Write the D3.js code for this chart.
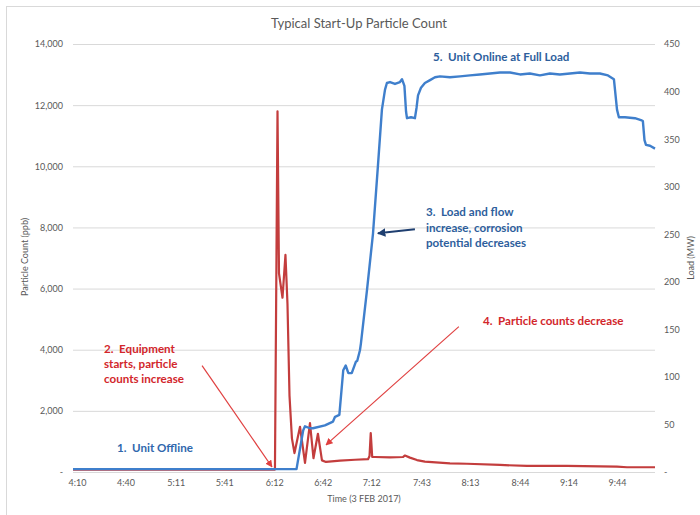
<!DOCTYPE html>
<html>
<head>
<meta charset="utf-8">
<script src="https://cdn.jsdelivr.net/npm/d3@7"></script>
<style>
  body { margin: 0; background: #fff; }
  svg text { font-family: Lato, "Open Sans", sans-serif; }
</style>
</head>
<body>
<div id="vis"></div>
<script>
// Particle count (ppb), left axis
const particleCount = [
    ["4:07:30", 80], ["6:12:25", 80], ["6:14:00", 11800], ["6:14:55", 6500],
    ["6:17:05", 5700], ["6:18:55", 7100], ["6:20:10", 5500], ["6:21:25", 2500],
    ["6:22:55", 1100], ["6:24:30", 620], ["6:27:55", 1480], ["6:31:00", 300],
    ["6:34:05", 1600], ["6:36:15", 450], ["6:39:00", 1250], ["6:41:30", 380],
    ["6:44:00", 330], ["6:52:40", 370], ["7:01:55", 400], ["7:10:00", 420],
    ["7:10:55", 520], ["7:11:40", 1270], ["7:12:35", 490], ["7:14:15", 490],
    ["7:23:35", 480], ["7:31:35", 490], ["7:32:50", 540], ["7:35:55", 470],
    ["7:40:15", 390], ["7:45:10", 340], ["8:00:40", 285], ["8:11:10", 270],
    ["8:31:35", 230], ["8:48:20", 200], ["9:13:00", 200], ["9:44:00", 175],
    ["9:50:10", 155], ["10:07:30", 155]
];

// Unit load (MW), right axis
const unitLoad = [
    ["4:07:30", 3], ["6:25:45", 3], ["6:29:55", 44], ["6:31:00", 48],
    ["6:34:05", 46], ["6:35:55", 46], ["6:43:20", 49], ["6:48:20", 53],
    ["6:49:35", 58], ["6:52:15", 60], ["6:54:40", 107], ["6:56:10", 112],
    ["6:57:50", 104], ["6:59:55", 104], ["7:02:30", 116], ["7:03:20", 117],
    ["7:05:00", 128], ["7:05:35", 135], ["7:09:20", 191], ["7:13:05", 251],
    ["7:16:05", 321], ["7:18:35", 381], ["7:20:30", 402], ["7:21:40", 409],
    ["7:23:35", 410], ["7:26:40", 408], ["7:29:45", 410], ["7:31:00", 413],
    ["7:32:30", 406], ["7:33:30", 379], ["7:34:05", 372], ["7:36:35", 373],
    ["7:39:00", 372], ["7:40:00", 383], ["7:40:55", 396], ["7:42:45", 404],
    ["7:45:10", 409], ["7:48:20", 412], ["7:51:25", 415], ["7:54:30", 416],
    ["8:00:40", 415], ["8:06:55", 416], ["8:13:00", 417], ["8:19:10", 418],
    ["8:25:25", 419], ["8:31:35", 420], ["8:37:50", 420], ["8:44:00", 418],
    ["8:50:05", 419], ["8:56:20", 417], ["9:02:30", 419], ["9:08:40", 418],
    ["9:14:55", 419], ["9:21:05", 420], ["9:27:15", 419], ["9:33:25", 419],
    ["9:38:25", 417], ["9:42:05", 413], ["9:44:00", 381], ["9:45:10", 373],
    ["9:48:55", 373], ["9:55:05", 372], ["9:58:50", 370], ["10:00:00", 369],
    ["10:01:00", 349], ["10:01:55", 344], ["10:04:25", 343], ["10:07:30", 340]
];

const timeTicks = ["4:10", "4:40", "5:11", "5:41", "6:12", "6:42", "7:12", "7:43", "8:13", "8:44", "9:14", "9:44"];
const countTicks = [0, 2000, 4000, 6000, 8000, 10000, 12000, 14000];
const loadTicks = [0, 50, 100, 150, 200, 250, 300, 350, 400, 450];
const timeRange = ["4:07:30", "10:07:30"];

// Callouts: [time, ppb] on the left axis
const notes = [
    { lines: ["1.  Unit Offline"], at: ["4:34:40", 656], color: "#2f67ad" },
    { lines: ["2.  Equipment", "starts, particle", "counts increase"], at: ["4:26:40", 3903], color: "#d2262b" },
    { lines: ["3.  Load and flow", "increase, corrosion", "potential decreases"], at: ["7:45:50", 8364], color: "#2d5e9c" },
    { lines: ["4.  Particle counts decrease"], at: ["8:21:05", 4822], color: "#d2262b" },
    { lines: ["5.  Unit Online at Full Load"], at: ["7:50:10", 13448], color: "#2d5e9c" }
];
const arrows = [
    { from: ["5:27:20", 3480], to: ["6:10:35", 164], color: "#e04040", w: 1.2, head: 6 },
    { from: ["8:06:10", 4756], to: ["6:44:00", 886], color: "#e04040", w: 1.2, head: 6 },
    { from: ["7:39:00", 7938], to: ["7:16:05", 7806], color: "#1f3f70", w: 2, head: 4.2 }
];

const W = 700, H = 515;
const margin = { top: 44, right: 45, bottom: 43, left: 73 };
const width = W - margin.left - margin.right;
const height = H - margin.top - margin.bottom;

const parseT = d3.timeParse("%H:%M:%S");
const parseHM = d3.timeParse("%H:%M");

const root = d3.select('#vis').append('svg')
    .attr('width', W)
    .attr('height', H);

// chart border
root.append('rect')
    .attr('x', 6.5).attr('y', 6.5)
    .attr('width', W).attr('height', H)
    .attr('fill', 'none')
    .attr('stroke', '#d9d9d9');

const svg = root.append('g')
    .attr('transform', `translate(${margin.left},${margin.top})`);

const x = d3.scaleTime().domain(timeRange.map(parseT)).range([0, width]);
const y = d3.scaleLinear().domain([0, 14000]).range([height, 0]);
const y2 = d3.scaleLinear().domain([0, 450]).range([height, 0]);

const fmtCount = d => d === 0 ? '-' : d3.format(',')(d);
const fmtLoad = d => d === 0 ? '-' : d;

// left axis with gridlines
const yAxis = svg.append('g')
    .call(d3.axisLeft(y).tickValues(countTicks).tickSize(-width).tickPadding(10).tickFormat(fmtCount));
yAxis.select('.domain').remove();
yAxis.selectAll('line').attr('stroke', '#d9d9d9');
yAxis.selectAll('text').attr('fill', '#595959').style('font-size', '9px');

// right axis
const y2Axis = svg.append('g')
    .attr('transform', `translate(${width},0)`)
    .call(d3.axisRight(y2).tickValues(loadTicks).tickSize(0).tickPadding(9).tickFormat(fmtLoad));
y2Axis.select('.domain').remove();
y2Axis.selectAll('text').attr('fill', '#595959').style('font-size', '9px');

// x axis
const xAxis = svg.append('g')
    .attr('transform', `translate(0,${height})`)
    .call(d3.axisBottom(x).tickValues(timeTicks.map(parseHM)).tickSize(0).tickPadding(8).tickFormat(d3.timeFormat('%-H:%M')));
xAxis.select('.domain').remove();
xAxis.selectAll('text').attr('fill', '#595959').style('font-size', '9px');

// titles
root.append('text')
    .attr('x', 359).attr('y', 28)
    .attr('text-anchor', 'middle')
    .attr('fill', '#595959')
    .style('font-size', '13px')
    .text('Typical Start-Up Particle Count');

root.append('text')
    .attr('x', 364).attr('y', 502)
    .attr('text-anchor', 'middle')
    .attr('fill', '#595959')
    .style('font-size', '9px')
    .text('Time (3 FEB 2017)');

root.append('text')
    .attr('transform', 'translate(28,257) rotate(-90)')
    .attr('text-anchor', 'middle')
    .attr('fill', '#595959')
    .style('font-size', '9px')
    .text('Particle Count (ppb)');

root.append('text')
    .attr('transform', 'translate(694,258) rotate(-90)')
    .attr('text-anchor', 'middle')
    .attr('fill', '#595959')
    .style('font-size', '9px')
    .text('Load (MW)');

// series
const countLine = d3.line()
    .x(d => x(parseT(d[0])))
    .y(d => y(d[1]));
const loadLine = d3.line()
    .x(d => x(parseT(d[0])))
    .y(d => y2(d[1]));

svg.append('path')
    .datum(particleCount)
    .attr('d', countLine)
    .attr('fill', 'none')
    .attr('stroke', '#c33d3d')
    .attr('stroke-width', 2.2)
    .attr('stroke-linejoin', 'round');

svg.append('path')
    .datum(unitLoad)
    .attr('d', loadLine)
    .attr('fill', 'none')
    .attr('stroke', '#3f7fcc')
    .attr('stroke-width', 2.4)
    .attr('stroke-linejoin', 'round');

// arrows
const defs = root.append('defs');
arrows.forEach((a, i) => {
    defs.append('marker')
        .attr('id', 'head' + i)
        .attr('viewBox', '0 0 10 10')
        .attr('refX', 9).attr('refY', 5)
        .attr('markerWidth', a.head)
        .attr('markerHeight', a.head)
        .attr('orient', 'auto')
        .append('path')
        .attr('d', 'M0,0 L10,5 L0,10 z')
        .attr('fill', a.color);

    svg.append('line')
        .attr('x1', x(parseT(a.from[0]))).attr('y1', y(a.from[1]))
        .attr('x2', x(parseT(a.to[0]))).attr('y2', y(a.to[1]))
        .attr('stroke', a.color)
        .attr('stroke-width', a.w)
        .attr('marker-end', `url(#head${i})`);
});

// callout text
notes.forEach(n => {
    const t = svg.append('text')
        .attr('x', x(parseT(n.at[0])))
        .attr('y', y(n.at[1]))
        .attr('fill', n.color)
        .style('font-size', '11.6px')
        .style('font-weight', 'bold')
        .style('white-space', 'pre');
    n.lines.forEach((line, i) => {
        t.append('tspan')
            .attr('x', x(parseT(n.at[0])))
            .attr('dy', i === 0 ? 0 : 15.3)
            .text(line);
    });
});
</script>
</body>
</html>
